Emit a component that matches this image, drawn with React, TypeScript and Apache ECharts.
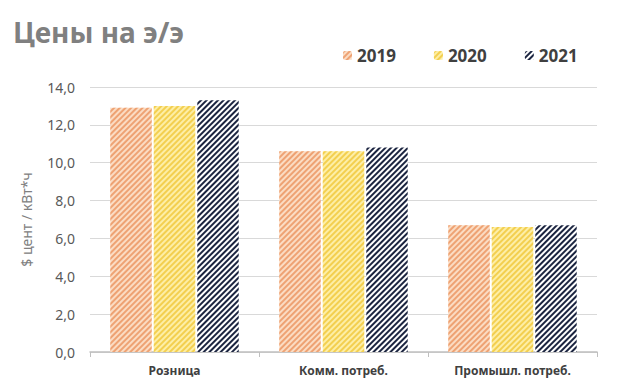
import React, { useEffect, useRef } from "react";
import * as echarts from "echarts";

const categories = ["Розница", "Комм. потреб.", "Промышл. потреб."];
const years = ["2019", "2020", "2021"];
const values2019 = [12.9, 10.6, 6.7];
const values2020 = [13.0, 10.6, 6.6];
const values2021 = [13.3, 10.8, 6.7];
const yTicks = [0, 2, 4, 6, 8, 10, 12, 14];

const baseColors = ["#fbdcc3", "#fdeea6", "#ffffff"];
const stripeColors = ["#eea273", "#f3cf4f", "#1b2440"];

export default function App() {
  const ref = useRef<HTMLDivElement>(null);
  useEffect(() => {
    if (!ref.current) return;
    const chart = echarts.init(ref.current, undefined, { renderer: "svg" });
    const seriesData = [values2019, values2020, values2021];
    chart.setOption({
      animation: false,
      title: {
        text: "Цены на э/э",
        left: 8,
        top: 13,
        textStyle: { fontFamily: "Noto Sans", fontSize: 28, fontWeight: "bold", color: "#808080" },
      },
      legend: {
        data: years,
        top: 42,
        left: 338,
        itemWidth: 9,
        itemHeight: 9,
        itemGap: 38,
        textStyle: { fontFamily: "Noto Sans", fontSize: 17, fontWeight: "bold", color: "#404040" },
      },
      grid: { left: 90, right: 23, top: 87, bottom: 37, containLabel: false },
      xAxis: {
        type: "category",
        data: categories,
        axisLine: { lineStyle: { color: "#bfbfbf", width: 1.5 } },
        axisTick: { show: true, length: 5, lineStyle: { color: "#bfbfbf" } },
        axisLabel: { fontFamily: "Noto Sans", fontSize: 12, fontWeight: "bold", color: "#404040", margin: 12 },
      },
      yAxis: {
        type: "value",
        min: yTicks[0],
        max: yTicks[yTicks.length - 1],
        interval: 2,
        name: "$ цент / кВт*ч",
        nameLocation: "middle",
        nameGap: 57,
        nameTextStyle: { fontFamily: "Noto Sans", fontSize: 14, color: "#808080" },
        axisLabel: {
          fontFamily: "Noto Sans",
          fontSize: 14,
          color: "#595959",
          margin: 15,
          formatter: (v: number) => v.toFixed(1).replace(".", ","),
        },
        splitLine: { lineStyle: { color: "#d9d9d9" } },
      },
      series: years.map((y, i) => ({
        name: y,
        type: "bar",
        data: seriesData[i],
        barGap: "5%",
        barCategoryGap: "24%",
        itemStyle: {
          color: baseColors[i],
          decal: {
            symbol: "rect",
            symbolSize: 1,
            dashArrayX: [1, 0],
            dashArrayY: [2, 2],
            rotation: -Math.PI / 4,
            color: stripeColors[i],
          },
        },
      })),
    });
    return () => chart.dispose();
  }, []);
  return <div ref={ref} style={{ position: "absolute", left: 0, top: 0, width: 620, height: 389 }} />;
}
